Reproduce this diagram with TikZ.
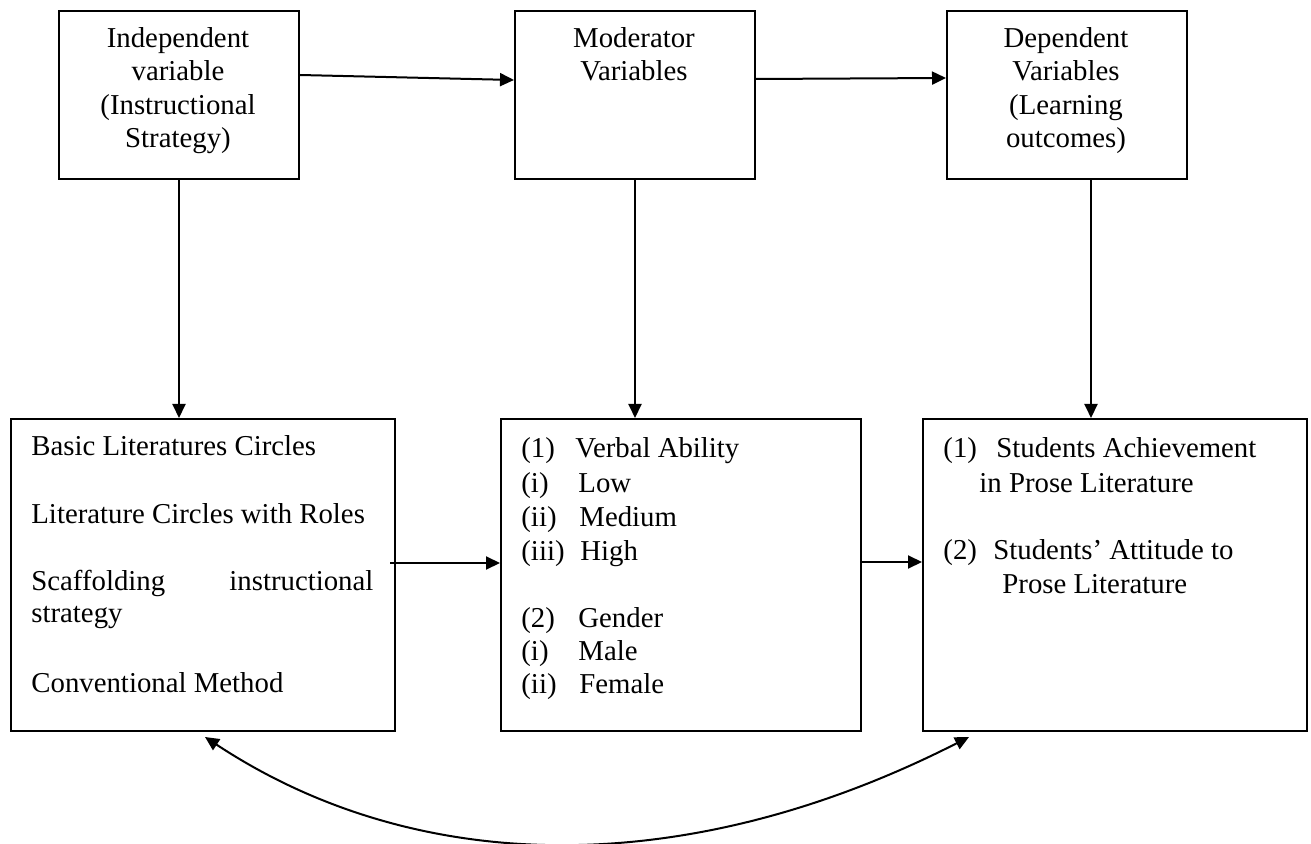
\documentclass[tikz,border=0pt]{standalone}
\usepackage{fontspec}
\setmainfont{Liberation Serif}
\usetikzlibrary{arrows.meta,calc}
\begin{document}
\begin{tikzpicture}[x=0.5pt,y=-0.5pt,
  box/.style={draw,line width=1pt,inner sep=0pt,anchor=north west},
  txt/.style={inner sep=0pt,anchor=base west,font=\fontsize{14.4}{16.75}\selectfont},
  ctxt/.style={inner sep=0pt,anchor=base,font=\fontsize{14.4}{16.75}\selectfont},
  arr/.style={-{Triangle[length=7pt,width=6.5pt]},line width=1pt},
  dblarr/.style={{Triangle[length=7pt,width=6.5pt]}-{Triangle[length=7pt,width=6.5pt]},line width=1pt}]
\useasboundingbox (0,0) rectangle (1311,844);
% boxes
\node[box,minimum width=120pt,minimum height=84pt] (A) at (58,10) {};
\node[box,minimum width=120pt,minimum height=84pt] (B) at (514,10) {};
\node[box,minimum width=120pt,minimum height=84pt] (C) at (946,10) {};
\node[box,minimum width=192pt,minimum height=156pt] (D) at (10,418) {};
\node[box,minimum width=180pt,minimum height=156pt] (E) at (500,418) {};
\node[box,minimum width=192pt,minimum height=156pt] (F) at (922,418) {};
% top texts
\node[ctxt] (a1) at (178,48) {Independent};
\node[ctxt] (a2) at (178,81) {variable};
\node[ctxt] (a3) at (178,115) {(Instructional};
\node[ctxt] (a4) at (178,148) {Strategy)};
\node[ctxt] (b1) at (634,48) {Moderator};
\node[ctxt] (b2) at (634,81) {Variables};
\node[ctxt] (c1) at (1066,48) {Dependent};
\node[ctxt] (c2) at (1066,81) {Variables};
\node[ctxt] (c3) at (1066,115) {(Learning};
\node[ctxt] (c4) at (1066,148) {outcomes)};
% box D texts
\node[txt] (d1) at (31,455) {Basic Literatures Circles};
\node[txt] (d2) at (31,523) {Literature Circles with Roles};
\node[txt] (d3) at (31,590) {\makebox[171pt][s]{Scaffolding\hfill instructional}};
\node[txt] (d4) at (31,622) {strategy};
\node[txt] (d5) at (31,692) {Conventional Method};
% box E texts
\node[txt] (e1l) at (521,457) {(1)};
\node[txt] (e1) at (575,457) {Verbal Ability};
\node[txt] (e2l) at (521,492) {(i)};
\node[txt] (e2) at (578,492) {Low};
\node[txt] (e3l) at (521,526) {(ii)};
\node[txt] (e3) at (579,526) {Medium};
\node[txt] (e4l) at (521,560) {(iii)};
\node[txt] (e4) at (580,560) {High};
\node[txt] (e5l) at (521,627) {(2)};
\node[txt] (e5) at (578,627) {Gender};
\node[txt] (e6l) at (521,660) {(i)};
\node[txt] (e6) at (578,660) {Male};
\node[txt] (e7l) at (521,693) {(ii)};
\node[txt] (e7) at (579,693) {Female};
% box F texts
\node[txt] (f1l) at (943,457) {(1)};
\node[txt] (f1) at (996,457) {Students Achievement};
\node[txt] (f2) at (979,492) {in Prose Literature};
\node[txt] (f3l) at (943,559) {(2)};
\node[txt] (f3) at (993,559) {Students’ Attitude to};
\node[txt] (f4) at (1002,593) {Prose Literature};
% connectors
\draw[arr] ([yshift=10pt]A.east) -- ([yshift=7.5pt]B.west);
\draw[arr] ([yshift=8pt]B.east) -- ([yshift=8.5pt]C.west);
\draw[arr] (A.south) -- (A.south |- D.north);
\draw[arr] (B.south) -- (B.south |- E.north);
\draw[arr] ([xshift=12pt]C.south) -- ([xshift=12pt]C.south |- F.north);
\draw[arr] ([xshift=-3pt,yshift=6pt]D.east) -- ([yshift=6pt]E.west);
\draw[arr] ([yshift=6.5pt]E.east) -- ([yshift=6.5pt]F.west);
\draw[dblarr] ([xshift=1pt,yshift=-2.5pt]D.south) .. controls (420,879) and (690,879) .. ([xshift=-73pt,yshift=-2.5pt]F.south);
\end{tikzpicture}
\end{document}
